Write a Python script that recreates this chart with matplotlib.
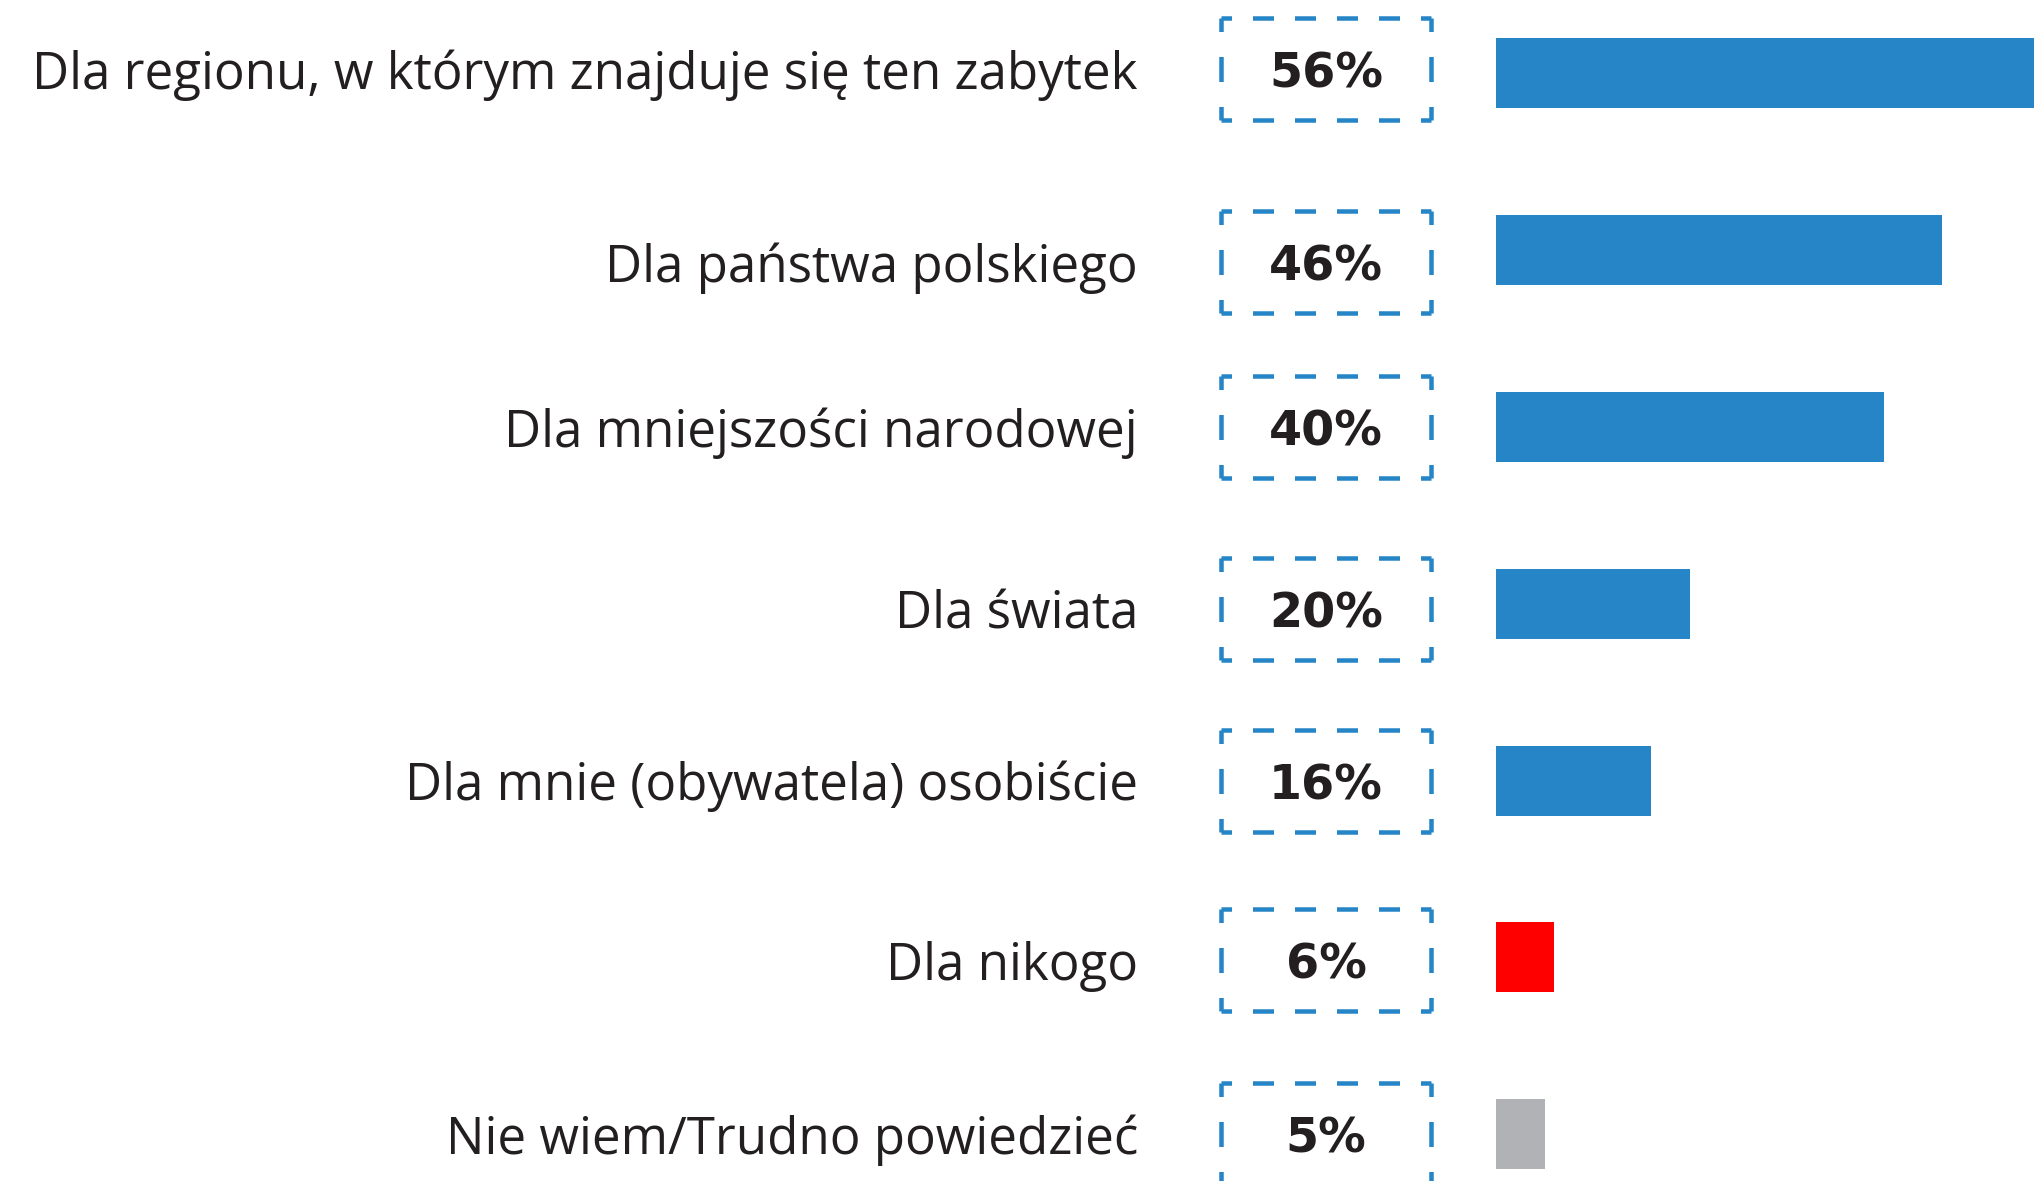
import matplotlib.pyplot as plt
from matplotlib.transforms import blended_transform_factory
from matplotlib.lines import Line2D

# dane
labels = ["Dla regionu, w którym znajduje się ten zabytek",
          "Dla państwa polskiego",
          "Dla mniejszości narodowej",
          "Dla świata",
          "Dla mnie (obywatela) osobiście",
          "Dla nikogo",
          "Nie wiem/Trudno powiedzieć"]
values = [56, 46, 40, 20, 16, 6, 5]
colors = ["#2585c7"] * 5 + ["#ff0000", "#b1b2b6"]

# przesunięcie etykiet i ramek względem pasków (px, w dół)
label_shift = [-4, 12, 0, 5, 0, 3, 0]

W, H = 2034, 1181
plt.rcParams['lines.scale_dashes'] = False
fig = plt.figure(figsize=(W / 100, H / 100), dpi=100)

# os z paskami: 0% na x=1496 px, ok. 9.7 px na 1%
x0 = 1496
ax = fig.add_axes([x0 / W, 0, (W - x0) / W, 1])
row = 176.8
top = 73.3
ax.set_xlim(0, (W - x0) / 9.7)
ax.set_ylim((H - top) / row, -top / row)
ax.axis("off")

pos = list(range(len(values)))
ax.barh(pos, values, height=70 / row, color=colors)

tr = blended_transform_factory(fig.transFigure, ax.transData)
renderer = fig.canvas.get_renderer()


def fit_size(text, family, weight, target_px):
    t = fig.text(0, 0, text, fontsize=30, family=family, fontweight=weight)
    w = t.get_window_extent(renderer).width
    t.remove()
    return 30 * target_px / w


lab_fs = fit_size(labels[0], "Open Sans", "normal", 1106)
pct_fs = fit_size("56%", "DejaVu Sans", "bold", 114)


def dashed_side(xa, ya, xb, yb, length_px, d, n):
    # odcinek z pełnymi narożnikami i n kreskami w środku
    c = (length_px - (2 * n + 1) * d) / 2
    pt = 72 / 100
    ln = Line2D([xa, xb], [ya, yb], transform=tr, color="#2585c7", lw=4.5 * pt,
                linestyle=((d - c) * pt, (d * pt, d * pt)),
                solid_capstyle="butt", dash_capstyle="butt")
    fig.add_artist(ln)


bx0, bx1 = 1221, 1431
bh = 102
for i, v in enumerate(values):
    yc = i + label_shift[i] / row
    fig.text(1138 / W, yc, labels[i], transform=tr, ha="right", va="center_baseline",
             fontsize=lab_fs, family="Open Sans", color="#231f20")
    fig.text((bx0 + bx1) / 2 / W, yc, f"{v}%", transform=tr, ha="center", va="center_baseline",
             fontsize=pct_fs, family="DejaVu Sans", fontweight="bold", color="#231f20")
    ya = yc - bh / 2 / row
    yb = yc + bh / 2 / row
    wpx = bx1 - bx0
    dashed_side(bx0 / W, ya, bx1 / W, ya, wpx, 21, 4)
    dashed_side(bx0 / W, yb, bx1 / W, yb, wpx, 21, 4)
    dashed_side(bx0 / W, ya, bx0 / W, yb, bh, 25, 1)
    dashed_side(bx1 / W, ya, bx1 / W, yb, bh, 25, 1)

fig.savefig("out.png", dpi=100)
